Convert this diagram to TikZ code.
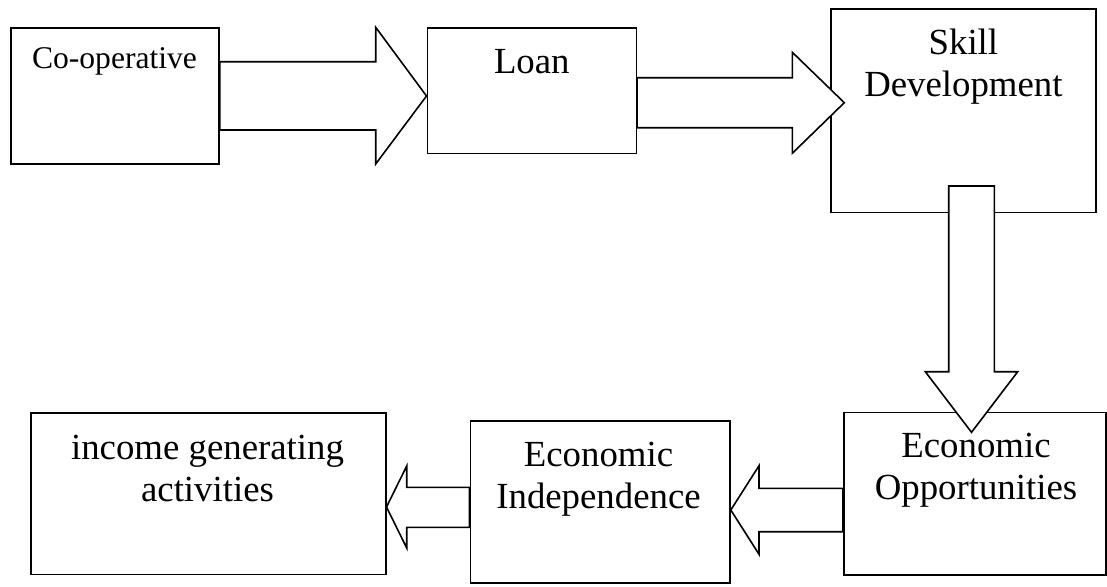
\documentclass[tikz,border=0pt]{standalone}
\usepackage{fontspec}
\setmainfont{Liberation Serif}
\begin{document}
\begin{tikzpicture}[x=1pt,y=-1pt,
  box/.style={draw=black, line width=1.6pt, fill=white, inner sep=0pt, rectangle},
  blockarrow/.style={draw=black, line width=1.6pt, fill=white, line join=miter},
  bigtext/.style={font=\fontsize{36.8pt}{42.3pt}\selectfont, inner sep=0pt, anchor=base},
  smalltext/.style={font=\fontsize{31.6pt}{36.3pt}\selectfont, inner sep=0pt, anchor=base}]
\useasboundingbox (0,0) rectangle (1107,586);
\fill[white] (0,0) rectangle (1107,586);
% boxes
\node[box, minimum width=208pt, minimum height=136pt] (coop) at (115,96) {};
\node[box, minimum width=209pt, minimum height=125.3pt] (loan) at (531.8,90.65) {};
\node[box, minimum width=264.7pt, minimum height=203.3pt] (skill) at (963.35,110.65) {};
\node[box, minimum width=262pt, minimum height=162.7pt] (opp) at (974.7,493.65) {};
\node[box, minimum width=259.7pt, minimum height=161.7pt] (indep) at (600.15,501.85) {};
\node[box, minimum width=355pt, minimum height=161.6pt] (income) at (208.2,493.5) {};
% block arrows
\draw[blockarrow] (coop.east |- 0,61.7) -- (375.7,61.7) -- (375.7,27.3) -- (loan.west |- 0,96)
  -- (375.7,164) -- (375.7,130) -- (coop.east |- 0,130) -- cycle;
\draw[blockarrow] (loan.east |- 0,77.7) -- (792.3,77.7) -- (792.3,52.3) -- (844.3,102.7)
  -- (792.3,153.3) -- (792.3,127.7) -- (loan.east |- 0,127.7) -- cycle;
\draw[blockarrow] (948.7,186) -- (994.3,186) -- (994.3,371.7) -- (1017.7,371.7) -- (971.5,432.3)
  -- (925.3,371.7) -- (948.7,371.7) -- cycle;
\draw[blockarrow] (opp.west |- 0,488.3) -- (759,488.3) -- (759,465.7) -- (indep.east |- 0,510)
  -- (759,554.3) -- (759,531.7) -- (opp.west |- 0,531.7) -- cycle;
\draw[blockarrow] (indep.west |- 0,487.3) -- (406.7,487.3) -- (406.7,466) -- (income.east |- 0,507)
  -- (406.7,548) -- (406.7,527.3) -- (indep.west |- 0,527.3) -- cycle;
% texts
\node[smalltext] (coopT) at (114.5,68) {Co-operative};
\node[bigtext] (loanT) at (531.8,73.3) {Loan};
\node[bigtext] (skillT) at (963.4,54.3) {\begin{tabular}[t]{@{}c@{}}Skill\\Development\end{tabular}};
\node[bigtext] (oppT) at (976,457) {\begin{tabular}[t]{@{}c@{}}Economic\\Opportunities\end{tabular}};
\node[bigtext] (indepT) at (598.5,466) {\begin{tabular}[t]{@{}c@{}}Economic\\Independence\end{tabular}};
\node[bigtext] (incomeT) at (207.5,459) {\begin{tabular}[t]{@{}c@{}}income generating\\activities\end{tabular}};
\end{tikzpicture}
\end{document}
